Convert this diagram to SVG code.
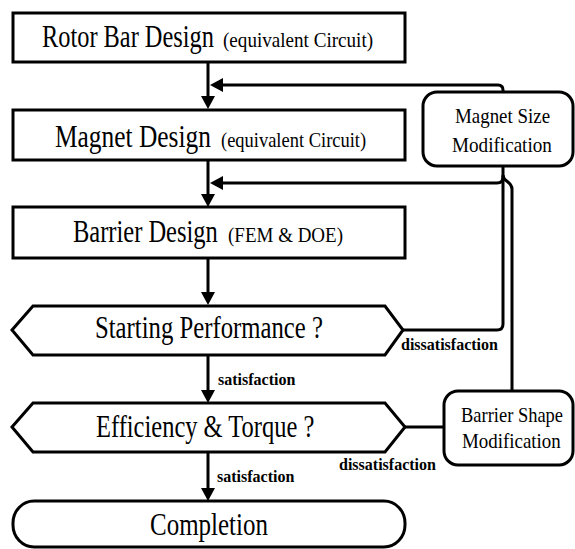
<svg xmlns="http://www.w3.org/2000/svg" width="575" height="549" viewBox="0 0 575 549">
  <style>
    .box { fill: #ffffff; stroke: #000000; stroke-width: 3; }
    .wire { fill: none; stroke: #000000; stroke-width: 3; }
    text { font-family: 'Liberation Serif', 'Times New Roman', serif; fill: #000000; }
    .big { font-size: 31px; }
    .small { font-size: 21px; }
    .side { font-size: 22px; }
    .tag { font-size: 16px; font-weight: bold; }
  </style>
  <defs>
    <marker id="head" markerUnits="userSpaceOnUse" markerWidth="14" markerHeight="14" refX="0" refY="7" orient="auto">
      <path d="M0,0 L13,7 L0,14 Z" fill="#000000"/>
    </marker>
  </defs>

  <rect width="575" height="549" fill="#ffffff"/>

  <!-- connectors -->
  <g id="connectors">
    <path class="wire" d="M208,62 L208,96" marker-end="url(#head)"/>
    <path class="wire" d="M208,160 L208,194" marker-end="url(#head)"/>
    <path class="wire" d="M208,258 L208,292" marker-end="url(#head)"/>
    <path class="wire" d="M208,355 L208,390" marker-end="url(#head)"/>
    <path class="wire" d="M208,452 L208,488" marker-end="url(#head)"/>
    <!-- loop back from Magnet Size Modification to Magnet Design -->
    <path class="wire" d="M503,92 L503,90 Q503,85 498,85 L223,85" marker-end="url(#head)"/>
    <!-- loop back to Barrier Design -->
    <path class="wire" d="M503,166 L503,177 Q503,183 497,183 L223,183" marker-end="url(#head)"/>
    <!-- branch down to Barrier Shape Modification -->
    <path class="wire" d="M503,175 C503,182 512,181 512,189 L512,391"/>
    <!-- Starting Performance dissatisfaction -->
    <path class="wire" d="M403,330 L497,330 Q503,330 503,324 L503,176"/>
    <!-- Efficiency & Torque dissatisfaction -->
    <path class="wire" d="M405,427 L444,427"/>
  </g>

  <!-- step boxes; titles are set condensed with a horizontal scale -->
  <g id="rotor-bar">
    <rect class="box" x="13" y="13" width="392" height="49"/>
    <text class="big" transform="translate(42,47) scale(0.786,1)">Rotor Bar Design</text>
    <text class="small" transform="translate(223,47) scale(0.91,1)">(equivalent Circuit)</text>
  </g>

  <g id="magnet-design">
    <rect class="box" x="13" y="110" width="392" height="50"/>
    <text class="big" transform="translate(55,147) scale(0.82,1)">Magnet Design</text>
    <text class="small" transform="translate(221,147) scale(0.88,1)">(equivalent Circuit)</text>
  </g>

  <g id="barrier-design">
    <rect class="box" x="13" y="207" width="392" height="51"/>
    <text class="big" transform="translate(73,242) scale(0.79,1)">Barrier Design</text>
    <text class="small" transform="translate(228,242) scale(0.905,1)">(FEM &amp; DOE)</text>
  </g>

  <g id="starting-performance">
    <polygon class="box" points="12,330 33,306 385,306 403,330 385,355 33,355"/>
    <text class="big" transform="translate(95,338) scale(0.798,1)">Starting Performance ?</text>
  </g>

  <g id="efficiency-torque">
    <polygon class="box" points="12,427 33,403 385,403 405,427 385,452 33,452"/>
    <text class="big" transform="translate(96,437) scale(0.79,1)">Efficiency &amp; Torque ?</text>
  </g>

  <g id="completion">
    <rect class="box" x="13" y="501" width="392" height="46" rx="21" ry="22"/>
    <text class="big" transform="translate(150,535) scale(0.806,1)">Completion</text>
  </g>

  <g id="magnet-size-modification">
    <rect class="box" x="423" y="92" width="150" height="74" rx="14" ry="14"/>
    <text class="side" transform="translate(455,123) scale(0.86,1)">Magnet Size</text>
    <text class="side" transform="translate(452,152) scale(0.87,1)">Modification</text>
  </g>

  <g id="barrier-shape-modification">
    <rect class="box" x="444" y="391" width="129" height="74" rx="14" ry="14"/>
    <text class="side" transform="translate(461,422) scale(0.84,1)">Barrier Shape</text>
    <text class="side" transform="translate(462,448) scale(0.86,1)">Modification</text>
  </g>

  <g id="labels">
    <text class="tag" x="401" y="350">dissatisfaction</text>
    <text class="tag" x="218" y="385">satisfaction</text>
    <text class="tag" x="339" y="470">dissatisfaction</text>
    <text class="tag" x="217" y="482">satisfaction</text>
  </g>
</svg>
